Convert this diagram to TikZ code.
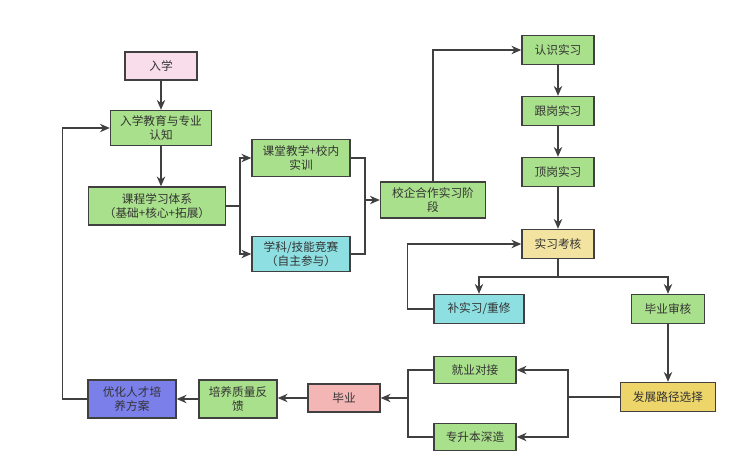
\documentclass[tikz,border=0pt]{standalone}
\usepackage{fontspec}
\setmainfont{Noto Sans CJK SC}
\usetikzlibrary{positioning,arrows.meta}
\definecolor{boxline}{HTML}{404040}
\definecolor{cgreen}{HTML}{A9E08B}
\definecolor{cpink}{HTML}{FADDEB}
\definecolor{ccyan}{HTML}{8EDFE2}
\definecolor{cyellow}{HTML}{F3E3A0}
\definecolor{cgold}{HTML}{EDD56A}
\definecolor{crose}{HTML}{F4B5B5}
\definecolor{cblue}{HTML}{7B7FEA}
\tikzset{box/.style={rectangle,draw=boxline,line width=1pt,align=center,inner sep=1pt,
    text=black!80,font=\fontsize{8.3}{10}\selectfont}}

\begin{document}
\begin{tikzpicture}[x=0.025cm,y=-0.025cm,>={Stealth[length=7pt,width=6pt]},line width=1pt,draw=boxline]
        \useasboundingbox (0,0) rectangle (744,462);
        \node[box,fill=cpink,minimum width=1.8cm,minimum height=0.7cm] (rx) at (161,66) {入学};
        \node[box,fill=cgreen,minimum width=2.525cm,minimum height=0.875cm] (jy1) at (161,128) {入学教育与专业\\认知};
        \node[box,fill=cgreen,minimum width=3.425cm,minimum height=0.95cm] (kc) at (157,206) {课程学习体系\\（基础+核心+拓展）};
        \node[box,fill=cgreen,minimum width=2.45cm,minimum height=0.925cm] (kt) at (301,158) {课堂教学+校内\\实训};
        \node[box,fill=ccyan,minimum width=2.45cm,minimum height=0.875cm] (js) at (301,254) {学科/技能竞赛\\（自主参与）};
        \node[box,fill=cgreen,minimum width=2.625cm,minimum height=0.9cm] (xq) at (433,200) {校企合作实习阶\\段};
        \node[box,fill=cgreen,minimum width=1.8cm,minimum height=0.725cm] (rs) at (558,50) {认识实习};
        \node[box,fill=cgreen,minimum width=1.8cm,minimum height=0.725cm] (gg) at (558,111) {跟岗实习};
        \node[box,fill=cgreen,minimum width=1.8cm,minimum height=0.725cm] (dg) at (558,172) {顶岗实习};
        \node[box,fill=cyellow,minimum width=1.8cm,minimum height=0.725cm] (kh) at (558,244) {实习考核};
        \node[box,fill=ccyan,minimum width=2.25cm,minimum height=0.725cm] (bx) at (479,309) {补实习/重修};
        \node[box,fill=cgreen,minimum width=1.825cm,minimum height=0.725cm] (bs) at (668,309) {毕业审核};
        \node[box,fill=cgold,minimum width=2.375cm,minimum height=0.725cm] (fz) at (668,397) {发展路径选择};
        \node[box,fill=cgreen,minimum width=2.05cm,minimum height=0.675cm] (jy) at (475,370) {就业对接};
        \node[box,fill=cgreen,minimum width=2.05cm,minimum height=0.675cm] (zs) at (475,437) {专升本深造};
        \node[box,fill=crose,minimum width=1.8cm,minimum height=0.7cm] (by) at (344,398) {毕业};
        \node[box,fill=cgreen,minimum width=1.95cm,minimum height=0.95cm] (pf) at (238,399) {培养质量反\\馈};
        \node[box,fill=cblue,minimum width=2.2cm,minimum height=0.95cm] (yh) at (132,399) {优化人才培\\养方案};

        \coordinate (m1) at (240,206);
        \coordinate (m2) at (365,200);
        \coordinate (m3) at (558,277);
        \coordinate (m4) at (568,397);
        \coordinate (m5) at (408,398);

        \draw [->] (rx) -- (jy1);
        \draw [->] (jy1.south) -- (jy1.south |- kc.north);
        \draw (kc.east) -- (m1);
        \draw [->] (m1) |- (kt.west);
        \draw [->] (m1) |- (js.west);
        \draw (kt.east) -| (m2);
        \draw (js.east) -| (m2);
        \draw [->] (m2) -- (xq.west);
        \draw [->] (xq.north) |- (rs.west);
        \draw [->] (rs) -- (gg);
        \draw [->] (gg) -- (dg);
        \draw [->] (dg) -- (kh);
        \draw (kh.south) -- (m3);
        \draw [->] (m3) -| (bx.north);
        \draw [->] (m3) -| (bs.north);
        \draw [->] (bx.west) -- ++(-26,0) |- (kh.west);
        \draw [->] (bs) -- (fz);
        \draw (fz.west) -- (m4);
        \draw [->] (m4) |- (jy.east);
        \draw [->] (m4) |- (zs.east);
        \draw (jy.west) -| (m5);
        \draw (zs.west) -| (m5);
        \draw [->] (m5) -- (by.east);
        \draw [->] (by.west) -- (by.west -| pf.east);
        \draw [->] (pf.west) -- (pf.west -| yh.east);
        \draw [->] (yh.west) -- ++(-25,0) |- (jy1.west);
    \end{tikzpicture}
\end{document}
